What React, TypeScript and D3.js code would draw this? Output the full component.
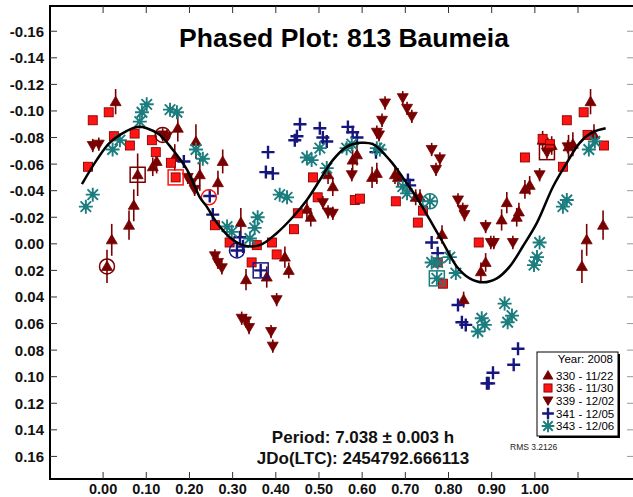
import React from "react";
import * as d3 from "d3";

// ---------- data ----------
const X_TICKS = [0, 0.1, 0.2, 0.3, 0.4, 0.5, 0.6, 0.7, 0.8, 0.9, 1.0];
const Y_TICKS = [-0.16, -0.14, -0.12, -0.1, -0.08, -0.06, -0.04, -0.02, 0, 0.02, 0.04, 0.06, 0.08, 0.1, 0.12, 0.14, 0.16];

const SERIES_LABELS = ["330 - 11/22", "336 - 11/30", "339 - 12/02", "341 - 12/05", "343 - 12/06"];

const PHASE_330 = [0.009, 0.020, 0.060, 0.071, 0.029, 0.173, 0.124, 0.115, 0.215, 0.277,
  0.166, 0.080, 0.224, 0.266, 0.319, 0.379, 0.331, 0.421, 0.430, 0.521,
  0.532, 0.472, 0.481, 0.578, 0.588, 0.623, 0.634, 0.676, 0.683, 0.724,
  0.734, 0.785, 0.886, 0.875, 0.935, 0.923, 0.958, 0.963, 0.977, 0.988,
  0.835, 1.109, 1.120, 1.158, 1.129, 1.088, 1.078, 1.018, 1.030, 1.039,
  1.137];
const MAG_330 = [0.017, -0.003, -0.014, -0.029, -0.107, -0.087, -0.062, -0.058, -0.077, -0.062,
  -0.065, -0.052, -0.052, -0.046, -0.016, 0.025, 0.027, 0.010, 0.020, -0.052,
  -0.043, -0.026, -0.020, -0.063, -0.067, -0.050, -0.053, -0.052, -0.050, -0.035,
  -0.035, -0.007, 0.014, 0.021, -0.031, -0.018, -0.020, -0.024, -0.041, -0.044,
  0.042, 0.017, -0.003, -0.014, -0.107, -0.075, -0.073, -0.078, -0.073, -0.074,
  -0.082];
const ERR_330 = [0.0125, 0.012, 0.011, 0.012, 0.0095, 0.010, 0.009, 0.007, 0.013, 0.009,
  0.010, 0.016, 0.012, 0.009, 0.011, 0.008, 0.008, 0.008, 0.006, 0.007,
  0.007, 0.008, 0.007, 0.008, 0.008, 0.008, 0.008, 0.007, 0.007, 0.006,
  0.006, 0.007, 0.007, 0.007, 0.008, 0.008, 0.007, 0.007, 0.007, 0.007,
  0.006, 0.0125, 0.012, 0.011, 0.0095, 0.009, 0.009, 0.007, 0.007, 0.007,
  0.008];

const PHASE_336 = [-0.024, 0.013, 0.025, 0.073, 0.062, 0.113, 0.122, -0.035, 0.157, 0.168,
  0.259, 0.293, 0.356, 0.391, 0.344, 0.402, 0.442, 0.451, 0.486, 0.497,
  0.583, 0.595, 0.678, 0.741, 0.729, 0.775, 0.870, 0.977, 1.018, 1.035,
  1.065, 1.074, 1.113, 1.122, 1.160, 0.787];
const MAG_336 = [-0.093, -0.099, -0.081, -0.083, -0.074, -0.078, -0.069, -0.058, -0.061, -0.050,
  -0.014, -0.001, 0.001, -0.001, 0.014, 0.008, -0.011, -0.023, -0.050, -0.035,
  -0.033, -0.034, -0.032, -0.025, -0.016, 0.014, -0.001, -0.065, -0.079, -0.075,
  -0.058, -0.093, -0.099, -0.082, -0.074, 0.030];

const PHASE_339 = [-0.024, -0.010, 0.138, 0.148, 0.196, 0.205, 0.212, 0.259, 0.266, 0.275,
  0.402, 0.321, 0.331, 0.338, 0.389, 0.393, 0.509, 0.521, 0.532, 0.576,
  0.634, 0.653, 0.646, 0.694, 0.704, 0.715, 0.639, 0.761, 0.780, 0.771,
  0.822, 0.833, 0.837, 0.886, 0.898, 0.905, 0.949, 1.011, 1.028, 1.076];
const MAG_339 = [-0.074, -0.075, -0.082, -0.081, -0.050, -0.046, -0.041, 0.009, 0.014, 0.018,
  0.042, 0.056, 0.058, 0.063, 0.066, 0.077, -0.031, -0.024, -0.023, -0.052,
  -0.084, -0.106, -0.093, -0.110, -0.102, -0.096, -0.082, -0.071, -0.064, -0.056,
  -0.033, -0.026, -0.022, -0.013, -0.001, -0.001, -0.001, -0.052, -0.069, -0.073];
const ERR_339 = 0.005;

const PHASE_341 = [0.187, 0.247, 0.254, 0.317, 0.324, 0.310, 0.365, 0.382, 0.377, 0.393,
  0.444, 0.449, 0.456, 0.502, 0.509, 0.518, 0.567, 0.578, 0.588, 0.632,
  0.706, 0.710, 0.761, 0.775, 0.822, 0.831, 0.840, 0.903, 0.889, 0.893,
  0.961, 0.951];
const MAG_341 = [-0.062, -0.036, -0.022, -0.005, 0.002, 0.005, 0.020, -0.069, -0.054, -0.053,
  -0.078, -0.081, -0.090, -0.087, -0.080, -0.077, -0.088, -0.084, -0.080, -0.069,
  -0.048, -0.044, -0.001, 0.007, 0.046, 0.059, 0.061, 0.097, 0.105, 0.105,
  0.079, 0.091];

const PHASE_343 = [-0.040, -0.024, 0.101, 0.090, 0.085, 0.155, 0.171, 0.039, 0.022, 0.215,
  0.231, 0.287, 0.298, 0.351, 0.358, 0.340, 0.409, 0.426, 0.472, 0.483,
  0.502, 0.518, 0.564, 0.576, 0.634, 0.641, 0.694, 0.704, 0.757, 0.761,
  0.775, 0.803, 0.817, 0.773, 0.877, 0.884, 0.868, 0.930, 0.947, 0.937,
  1.011, 1.005, 0.998, 1.065, 1.074, 1.125, 1.139];
const MAG_343 = [-0.028, -0.037, -0.105, -0.099, -0.092, -0.101, -0.099, -0.078, -0.071, -0.071,
  -0.064, -0.013, -0.009, -0.012, -0.020, -0.004, -0.037, -0.035, -0.065, -0.063,
  -0.072, -0.057, -0.072, -0.075, -0.072, -0.071, -0.043, -0.038, -0.032, 0.014,
  0.014, 0.010, 0.022, 0.026, 0.056, 0.061, 0.066, 0.045, 0.054, 0.059,
  -0.001, 0.010, 0.016, -0.028, -0.033, -0.071, -0.077];

// first-point markers (circles) and last-point markers (boxes): series index, phase, mag
const CIRCLE_SERIES = [0, 2, 1, 3, 4];
const CIRCLE_PHASE = [0.009, 0.138, 0.245, 0.310, 0.757];
const CIRCLE_MAG = [0.017, -0.082, -0.035, 0.005, -0.032];
const BOX_SERIES = [0, 1, 3, 4, 2];
const BOX_PHASE = [0.080, 0.168, 0.365, 0.773, 1.028];
const BOX_MAG = [-0.052, -0.050, 0.020, 0.026, -0.069];

// Fourier fit curve
const CURVE_PHASE = [-0.049, -0.015, 0.015, 0.055, 0.078, 0.101, 0.131, 0.161, 0.194, 0.224,
  0.240, 0.263, 0.293, 0.324, 0.363, 0.402, 0.439, 0.472, 0.502, 0.532,
  0.564, 0.595, 0.625, 0.664, 0.694, 0.726, 0.757, 0.787, 0.819, 0.849,
  0.880, 0.912, 0.942, 0.972, 1.005, 1.042, 1.074, 1.104, 1.134, 1.164];
const CURVE_MAG = [-0.045, -0.063, -0.076, -0.085, -0.088, -0.087, -0.082, -0.071, -0.056, -0.035,
  -0.028, -0.016, -0.005, 0.001, 0.001, -0.008, -0.020, -0.033, -0.048, -0.063,
  -0.073, -0.076, -0.075, -0.063, -0.050, -0.035, -0.018, -0.001, 0.017, 0.026,
  0.029, 0.026, 0.017, 0.002, -0.016, -0.043, -0.061, -0.076, -0.084, -0.087];

// ---------- styling ----------
const W = 633;
const H = 497;
const DARKRED = "#780000";
const RED = "#ff1414";
const NAVY = "#16167e";
const TEAL = "#1b7d7e";
const SERIES_COLORS = [DARKRED, RED, DARKRED, NAVY, TEAL];
const FONT = "'Liberation Sans', Arial, sans-serif";

const x = d3.scaleLinear().domain([-0.123, 1.225]).range([50, 632]);
const y = d3.scaleLinear().domain([-0.179, 0.177]).range([6, 479]);

function TriUp({ cx, cy, s = 1 }: { cx: number; cy: number; s?: number }) {
  return <path d={`M${cx},${cy - 5.5 * s}L${cx + 5.5 * s},${cy + 4 * s}L${cx - 5.5 * s},${cy + 4 * s}Z`} fill={DARKRED} stroke={DARKRED} strokeWidth={0.8} />;
}
function TriDown({ cx, cy, s = 1 }: { cx: number; cy: number; s?: number }) {
  return <path d={`M${cx},${cy + 5.5 * s}L${cx + 5.5 * s},${cy - 4 * s}L${cx - 5.5 * s},${cy - 4 * s}Z`} fill={DARKRED} stroke={DARKRED} strokeWidth={0.8} />;
}
function Sq({ cx, cy, s = 1 }: { cx: number; cy: number; s?: number }) {
  const h = 4.5 * s;
  return <rect x={cx - h} y={cy - h} width={2 * h} height={2 * h} fill={RED} stroke="#8a0000" strokeWidth={0.9} />;
}
function Plus({ cx, cy, s = 1 }: { cx: number; cy: number; s?: number }) {
  const h = 6.5 * s;
  return <path d={`M${cx - h},${cy}H${cx + h}M${cx},${cy - h}V${cy + h}`} stroke={NAVY} strokeWidth={2.4} fill="none" />;
}
function Star({ cx, cy, s = 1 }: { cx: number; cy: number; s?: number }) {
  const h = 7 * s;
  const d = h * 0.75;
  return (
    <g>
      <path
        d={`M${cx - h},${cy}H${cx + h}M${cx},${cy - h}V${cy + h}M${cx - d},${cy - d}L${cx + d},${cy + d}M${cx - d},${cy + d}L${cx + d},${cy - d}`}
        stroke={TEAL}
        strokeWidth={1.9}
        fill="none"
      />
      <circle cx={cx} cy={cy} r={2.6 * s} fill={TEAL} />
    </g>
  );
}

const SYMBOLS = [TriUp, Sq, TriDown, Plus, Star];

export default function App() {
  const line = d3
    .line<number>()
    .x((_, i) => x(CURVE_PHASE[i]))
    .y((m) => y(m))
    .curve(d3.curveCatmullRom.alpha(0.5));
  const curvePath = line(CURVE_MAG) || "";

  const xTickFmt = (v: number) => v.toFixed(2);
  const yTickFmt = (v: number) => (Math.abs(v) < 1e-9 ? "0.00" : v.toFixed(2));

  const legendX = 537;
  const legendY = 352;
  const legendW = 81;
  const legendH = 84;
  const rowYs = [375.5, 388, 400.5, 413.5, 426];

  return (
    <svg width={W} height={H} style={{ position: "absolute", left: 0, top: 0, background: "#fff" }} fontFamily={FONT}>
      <rect x={0} y={0} width={W} height={H} fill="#fff" />

      {/* frame */}
      <path d={`M${W},6H50V479H${W}`} fill="none" stroke="#000" strokeWidth={2} />

      {/* y ticks */}
      {Y_TICKS.map((v) => (
        <g key={"y" + v}>
          <line x1={50} x2={57} y1={y(v)} y2={y(v)} stroke="#333" strokeWidth={1} />
          <line x1={627} x2={633} y1={y(v)} y2={y(v)} stroke="#999" strokeWidth={1} />
          <text x={44} y={y(v)} dy="0.36em" textAnchor="end" fontSize={15} fontWeight="bold" fill="#111">
            {yTickFmt(v)}
          </text>
        </g>
      ))}

      {/* x ticks */}
      {X_TICKS.map((v) => (
        <g key={"x" + v}>
          <line x1={x(v)} x2={x(v)} y1={472} y2={479} stroke="#333" strokeWidth={1} />
          <line x1={x(v)} x2={x(v)} y1={6} y2={13} stroke="#333" strokeWidth={1} />
          <text x={x(v)} y={494} textAnchor="middle" fontSize={14.5} fontWeight="bold" fill="#111">
            {xTickFmt(v)}
          </text>
        </g>
      ))}
      <line x1={x(1.1)} x2={x(1.1)} y1={6} y2={13} stroke="#333" strokeWidth={1} />
      <line x1={x(1.1)} x2={x(1.1)} y1={472} y2={479} stroke="#333" strokeWidth={1} />

      {/* title */}
      <text x={344} y={47} textAnchor="middle" fontSize={26.5} fontWeight="bold" fill="#000">
        Phased Plot: 813 Baumeia
      </text>

      {/* error bars */}
      {PHASE_330.map((p, i) => (
        <line key={"e330" + i} x1={x(p)} x2={x(p)} y1={y(MAG_330[i] - ERR_330[i])} y2={y(MAG_330[i] + ERR_330[i])} stroke={DARKRED} strokeWidth={1.6} />
      ))}
      {PHASE_339.map((p, i) => (
        <line key={"e339" + i} x1={x(p)} x2={x(p)} y1={y(MAG_339[i] - ERR_339)} y2={y(MAG_339[i] + ERR_339)} stroke={DARKRED} strokeWidth={1.6} />
      ))}

      {/* points */}
      {PHASE_330.map((p, i) => <TriUp key={"p330" + i} cx={x(p)} cy={y(MAG_330[i])} />)}
      {PHASE_336.map((p, i) => <Sq key={"p336" + i} cx={x(p)} cy={y(MAG_336[i])} />)}
      {PHASE_339.map((p, i) => <TriDown key={"p339" + i} cx={x(p)} cy={y(MAG_339[i])} />)}
      {PHASE_341.map((p, i) => <Plus key={"p341" + i} cx={x(p)} cy={y(MAG_341[i])} />)}
      {PHASE_343.map((p, i) => <Star key={"p343" + i} cx={x(p)} cy={y(MAG_343[i])} />)}

      {/* circle / box markers */}
      {CIRCLE_PHASE.map((p, i) => (
        <circle key={"c" + i} cx={x(p)} cy={y(CIRCLE_MAG[i])} r={7.5} fill="none" stroke={SERIES_COLORS[CIRCLE_SERIES[i]]} strokeWidth={1.5} />
      ))}
      {BOX_PHASE.map((p, i) => (
        <rect key={"b" + i} x={x(p) - 7.5} y={y(BOX_MAG[i]) - 7.5} width={15} height={15} fill="none" stroke={SERIES_COLORS[BOX_SERIES[i]]} strokeWidth={1.5} />
      ))}

      {/* fit curve */}
      <path d={curvePath} fill="none" stroke="#000" strokeWidth={2.5} />

      {/* legend */}
      <rect x={legendX + 2} y={legendY + 2} width={legendW} height={legendH} fill="#000" />
      <rect x={legendX} y={legendY} width={legendW} height={legendH} fill="#fff" stroke="#000" strokeWidth={1} />
      <text x={613} y={359} dy="0.35em" textAnchor="end" fontSize={11.5} fill="#000">
        Year: 2008
      </text>
      {SERIES_LABELS.map((lab, i) => {
        const Sym = SYMBOLS[i];
        return (
          <g key={"lg" + i}>
            <Sym cx={548} cy={rowYs[i]} s={0.9} />
            <text x={556} y={rowYs[i]} dy="0.35em" fontSize={11.5} fill="#000">
              {lab}
            </text>
          </g>
        );
      })}

      {/* annotations */}
      <text x={363} y={443} textAnchor="middle" fontSize={17} fontWeight="bold" fill="#111">
        Period: 7.038 ± 0.003 h
      </text>
      <text x={363} y={464} textAnchor="middle" fontSize={17} fontWeight="bold" fill="#111">
        JDo(LTC): 2454792.666113
      </text>
      <text x={510} y={450} fontSize={8.5} fill="#222">
        RMS 3.2126
      </text>
    </svg>
  );
}
